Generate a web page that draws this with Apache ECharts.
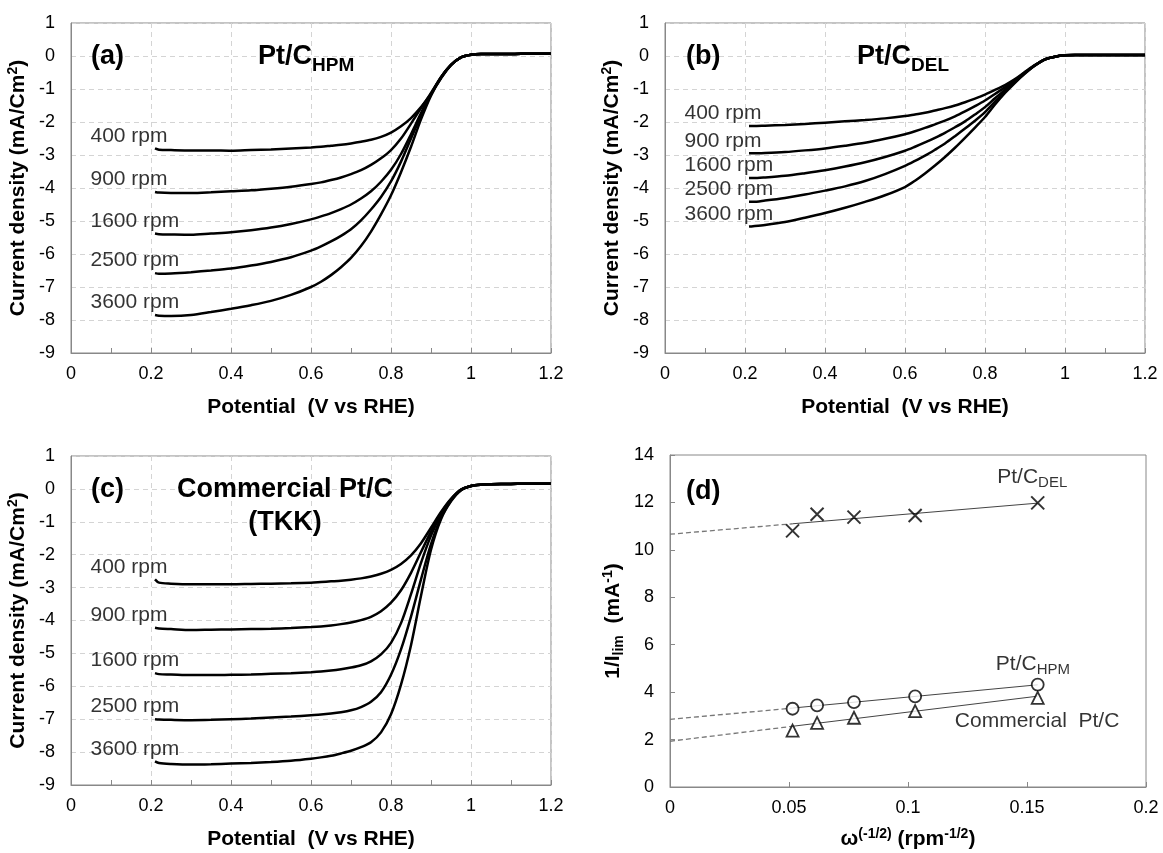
<!DOCTYPE html>
<html>
<head>
<meta charset="utf-8">
<script src="https://cdn.jsdelivr.net/npm/echarts@6/dist/echarts.min.js"></script>
<style>
  html, body { margin: 0; padding: 0; background: #fff; }
  #chart { width: 1163px; height: 853px; }
</style>
</head>
<body>
<div id="chart"></div>
<script>
var FONT = '"Liberation Sans", Arial, sans-serif';

// shared potential axis samples (V vs RHE)
var potential = [0.21, 0.22, 0.25, 0.3, 0.35, 0.4, 0.45, 0.5, 0.55, 0.6, 0.625, 0.65, 0.675, 0.7, 0.725, 0.75, 0.775, 0.8, 0.825, 0.85, 0.875, 0.9, 0.925, 0.95, 0.975, 1.0, 1.025, 1.05, 1.1, 1.15, 1.2];
var rpmLabels = ['400 rpm', '900 rpm', '1600 rpm', '2500 rpm', '3600 rpm'];

// (a) Pt/C HPM
var hpm400  = [-2.80,-2.84,-2.85,-2.86,-2.86,-2.87,-2.85,-2.83,-2.80,-2.77,-2.75,-2.72,-2.69,-2.65,-2.60,-2.54,-2.45,-2.32,-2.13,-1.88,-1.55,-1.15,-0.68,-0.28,-0.04,0.04,0.06,0.06,0.06,0.07,0.07];
var hpm900  = [-4.12,-4.14,-4.15,-4.15,-4.13,-4.10,-4.07,-4.02,-3.96,-3.88,-3.83,-3.76,-3.68,-3.58,-3.46,-3.30,-3.10,-2.85,-2.50,-2.05,-1.58,-1.12,-0.64,-0.27,-0.04,0.04,0.06,0.06,0.06,0.07,0.07];
var hpm1600 = [-5.38,-5.40,-5.41,-5.42,-5.38,-5.34,-5.28,-5.20,-5.09,-4.95,-4.86,-4.76,-4.64,-4.50,-4.32,-4.10,-3.81,-3.45,-2.97,-2.37,-1.73,-1.15,-0.64,-0.27,-0.04,0.04,0.06,0.06,0.06,0.07,0.07];
var hpm2500 = [-6.58,-6.60,-6.59,-6.55,-6.50,-6.44,-6.35,-6.24,-6.10,-5.90,-5.77,-5.62,-5.45,-5.25,-4.98,-4.65,-4.27,-3.80,-3.20,-2.50,-1.80,-1.17,-0.65,-0.27,-0.04,0.04,0.06,0.06,0.06,0.07,0.07];
var hpm3600 = [-7.85,-7.87,-7.88,-7.85,-7.76,-7.66,-7.55,-7.42,-7.24,-7.00,-6.84,-6.64,-6.40,-6.12,-5.76,-5.32,-4.80,-4.22,-3.52,-2.75,-1.92,-1.20,-0.66,-0.27,-0.04,0.04,0.06,0.06,0.06,0.07,0.07];

// (b) Pt/C DEL
var del400  = [-2.12,-2.12,-2.11,-2.09,-2.06,-2.02,-1.98,-1.94,-1.89,-1.82,-1.77,-1.72,-1.65,-1.58,-1.50,-1.40,-1.29,-1.17,-1.03,-0.88,-0.70,-0.48,-0.27,-0.10,-0.02,0.02,0.03,0.03,0.03,0.03,0.03];
var del900  = [-2.95,-2.95,-2.94,-2.91,-2.86,-2.80,-2.72,-2.63,-2.51,-2.37,-2.28,-2.18,-2.07,-1.96,-1.83,-1.68,-1.52,-1.35,-1.15,-0.95,-0.73,-0.50,-0.28,-0.10,-0.02,0.02,0.03,0.03,0.03,0.03,0.03];
var del1600 = [-3.70,-3.70,-3.68,-3.63,-3.55,-3.46,-3.35,-3.22,-3.06,-2.87,-2.75,-2.62,-2.48,-2.33,-2.16,-1.98,-1.77,-1.55,-1.28,-1.02,-0.76,-0.51,-0.28,-0.10,-0.02,0.02,0.03,0.03,0.03,0.03,0.03];
var del2500 = [-4.42,-4.42,-4.38,-4.30,-4.20,-4.08,-3.95,-3.79,-3.58,-3.33,-3.18,-3.02,-2.84,-2.65,-2.43,-2.20,-1.96,-1.70,-1.38,-1.08,-0.79,-0.52,-0.28,-0.10,-0.02,0.02,0.03,0.03,0.03,0.03,0.03];
var del3600 = [-5.17,-5.16,-5.12,-5.03,-4.90,-4.76,-4.60,-4.42,-4.22,-3.97,-3.78,-3.56,-3.32,-3.06,-2.78,-2.48,-2.17,-1.85,-1.47,-1.12,-0.81,-0.53,-0.29,-0.10,-0.02,0.02,0.03,0.03,0.03,0.03,0.03];

// (c) Commercial Pt/C (TKK)
var com400  = [-2.75,-2.85,-2.88,-2.90,-2.90,-2.90,-2.89,-2.88,-2.87,-2.85,-2.83,-2.81,-2.79,-2.76,-2.72,-2.66,-2.58,-2.46,-2.28,-2.02,-1.65,-1.18,-0.70,-0.30,-0.02,0.09,0.13,0.14,0.15,0.16,0.16];
var com900  = [-4.22,-4.24,-4.26,-4.29,-4.28,-4.27,-4.26,-4.25,-4.23,-4.20,-4.18,-4.15,-4.11,-4.06,-3.99,-3.89,-3.72,-3.46,-3.08,-2.55,-1.92,-1.30,-0.74,-0.32,-0.03,0.09,0.13,0.14,0.15,0.16,0.16];
var com1600 = [-5.60,-5.63,-5.64,-5.66,-5.66,-5.65,-5.64,-5.62,-5.60,-5.57,-5.55,-5.52,-5.48,-5.43,-5.36,-5.24,-5.03,-4.68,-4.08,-3.20,-2.25,-1.42,-0.78,-0.33,-0.03,0.09,0.13,0.14,0.15,0.16,0.16];
var com2500 = [-7.00,-7.01,-7.02,-7.03,-7.02,-7.00,-6.98,-6.95,-6.92,-6.88,-6.86,-6.83,-6.79,-6.73,-6.63,-6.47,-6.18,-5.65,-4.88,-3.88,-2.75,-1.68,-0.88,-0.35,-0.03,0.09,0.13,0.14,0.15,0.16,0.16];
var com3600 = [-8.28,-8.33,-8.36,-8.38,-8.37,-8.35,-8.33,-8.30,-8.26,-8.20,-8.16,-8.11,-8.04,-7.96,-7.85,-7.70,-7.40,-6.85,-5.95,-4.75,-3.25,-1.85,-0.92,-0.38,-0.04,0.09,0.13,0.14,0.15,0.16,0.16];

// (d) Koutecky-Levich
var omega = [0.0515, 0.0618, 0.0773, 0.1030, 0.1545];
var klDel = [10.80, 11.50, 11.38, 11.45, 11.98];
var klHpm = [3.30, 3.44, 3.58, 3.82, 4.32];
var klCom = [2.38, 2.70, 2.92, 3.20, 3.76];
// fitted line: value at 0, at first omega, at last omega
var fitDel = [10.66, 11.10, 11.97];
var fitHpm = [2.85, 3.33, 4.31];
var fitCom = [1.93, 2.56, 3.83];

var chart = echarts.init(document.getElementById('chart'));

var AX = '#888';
var nameStyle = {
  fontSize: 21, fontWeight: 'bold', fontFamily: FONT, color: '#000', lineHeight: 25,
  rich: {
    sup: { fontSize: 14, fontWeight: 'bold', fontFamily: FONT, color: '#000', verticalAlign: 'top', lineHeight: 12 },
    sub: { fontSize: 14, fontWeight: 'bold', fontFamily: FONT, color: '#000', verticalAlign: 'bottom', lineHeight: 12 }
  }
};
var labelStyle = { fontSize: 18, color: '#000', fontFamily: FONT };

function lsvX(gi) {
  return {
    gridIndex: gi, type: 'value', min: 0, max: 1.2, interval: 0.2,
    name: 'Potential  (V vs RHE)', nameLocation: 'middle', nameGap: 42, nameTextStyle: nameStyle,
    axisLine: { show: true, onZero: false, lineStyle: { color: AX, width: 1 } },
    axisTick: { show: true, inside: true, length: 5, lineStyle: { color: AX } },
    minorTick: { show: true, splitNumber: 2, length: 5, lineStyle: { color: AX } },
    splitLine: { show: true, lineStyle: { color: '#d4d4d4', type: [5, 4], width: 1 } },
    axisLabel: Object.assign({ margin: 12 }, labelStyle)
  };
}
function lsvY(gi) {
  return {
    gridIndex: gi, type: 'value', min: -9, max: 1, interval: 1,
    name: 'Current density (mA/Cm{sup|2})', nameLocation: 'middle', nameGap: 40, nameTextStyle: nameStyle,
    axisLine: { show: true, onZero: false, lineStyle: { color: AX, width: 1 } },
    axisTick: { show: false },
    splitLine: { show: true, lineStyle: { color: '#d4d4d4', type: [5, 4], width: 1 } },
    axisLabel: Object.assign({ margin: 16 }, labelStyle)
  };
}

function curve(gi, ys) {
  return {
    type: 'line', xAxisIndex: gi, yAxisIndex: gi, silent: true,
    data: potential.map(function(x, i) { return [x, ys[i]]; }),
    smooth: 0.3, showSymbol: false, symbol: 'none',
    lineStyle: { color: '#000', width: 2.5 }, z: 3
  };
}
function rpmTags(gi, curves) {
  return {
    type: 'scatter', xAxisIndex: gi, yAxisIndex: gi, silent: true,
    symbolSize: 1, itemStyle: { color: 'rgba(0,0,0,0)' },
    data: curves.map(function(c, i) { return { name: rpmLabels[i], value: [potential[0], c[0]] }; }),
    label: {
      show: true, formatter: '{b}', position: [-64, -12], align: 'left', verticalAlign: 'middle',
      fontSize: 21, color: '#000', fontFamily: FONT
    }, z: 4
  };
}

function fitLines(fit) {
  return [{
    type: 'line', xAxisIndex: 3, yAxisIndex: 3, silent: true, symbol: 'none',
    data: [[0, fit[0]], [omega[0], fit[1]]],
    lineStyle: { color: '#777', width: 1.3, type: [5, 3] }, z: 2
  }, {
    type: 'line', xAxisIndex: 3, yAxisIndex: 3, silent: true, symbol: 'none',
    data: [[omega[0], fit[1]], [omega[omega.length - 1], fit[2]]],
    lineStyle: { color: '#444', width: 1 }, z: 2
  }];
}
function markers(vals, symbol, size, style, tag) {
  var last = vals.length - 1;
  return {
    type: 'scatter', xAxisIndex: 3, yAxisIndex: 3, silent: true,
    symbol: symbol, symbolSize: size, itemStyle: style, z: 4,
    data: vals.map(function(v, i) {
      var d = { value: [omega[i], v] };
      if (i === last) d.label = tag;
      return d;
    })
  };
}
var dRich = {
  m: { fontSize: 21, fontFamily: FONT, color: '#000', lineHeight: 26 },
  s: { fontSize: 15, fontFamily: FONT, color: '#000', lineHeight: 14, verticalAlign: 'bottom' }
};

var series = [
  curve(0, hpm400), curve(0, hpm900), curve(0, hpm1600), curve(0, hpm2500), curve(0, hpm3600),
  rpmTags(0, [hpm400, hpm900, hpm1600, hpm2500, hpm3600]),
  curve(1, del400), curve(1, del900), curve(1, del1600), curve(1, del2500), curve(1, del3600),
  rpmTags(1, [del400, del900, del1600, del2500, del3600]),
  curve(2, com400), curve(2, com900), curve(2, com1600), curve(2, com2500), curve(2, com3600),
  rpmTags(2, [com400, com900, com1600, com2500, com3600])
];
series = series.concat(fitLines(fitDel), fitLines(fitHpm), fitLines(fitCom));
series.push(markers(klDel, 'path://M0,0L10,10M10,0L0,10', 13,
  { color: 'rgba(0,0,0,0)', borderColor: '#000', borderWidth: 2 },
  { show: true, formatter: '{m|Pt/C}{s|DEL}', rich: dRich, position: [-33, -18], align: 'left', verticalAlign: 'middle' }));
series.push(markers(klHpm, 'circle', 12,
  { color: '#fff', borderColor: '#000', borderWidth: 1.8 },
  { show: true, formatter: '{m|Pt/C}{s|HPM}', rich: dRich, position: [-35, -13], align: 'left', verticalAlign: 'middle' }));
series.push(markers(klCom, 'triangle', 12,
  { color: '#fff', borderColor: '#000', borderWidth: 1.8 },
  { show: true, formatter: 'Commercial  Pt/C', position: [-76, 30], align: 'left', verticalAlign: 'middle',
    fontSize: 21, fontFamily: FONT, color: '#000' }));

var gridBox = { show: true, borderColor: AX, borderWidth: 1, backgroundColor: 'transparent' };
var titleFont = 'bold 27px ' + FONT;
var tRich = {
  m: { fontSize: 27, fontWeight: 'bold', fontFamily: FONT, fill: '#000', lineHeight: 36 },
  s: { fontSize: 19, fontWeight: 'bold', fontFamily: FONT, fill: '#000', lineHeight: 18, verticalAlign: 'bottom' }
};
function tag(x, y, text, extra) {
  var st = { text: text, font: titleFont, fill: '#000', verticalAlign: 'middle', textVerticalAlign: 'middle' };
  if (extra) Object.assign(st, extra);
  return { type: 'text', x: x, y: y, style: st, z: 10 };
}

chart.setOption({
  animation: false,
  backgroundColor: '#fff',
  grid: [
    Object.assign({ left: 71, top: 23, width: 480, height: 330 }, gridBox),
    Object.assign({ left: 665, top: 23, width: 480, height: 330 }, gridBox),
    Object.assign({ left: 71, top: 456, width: 480, height: 330 }, gridBox),
    Object.assign({ left: 670, top: 455, width: 476, height: 334 }, gridBox)
  ],
  xAxis: [lsvX(0), lsvX(1), lsvX(2), {
    gridIndex: 3, type: 'value', min: 0, max: 0.2, interval: 0.05,
    name: '\u03c9{sup|(-1/2)} (rpm{sup|-1/2})', nameLocation: 'middle', nameGap: 40, nameTextStyle: nameStyle,
    axisLine: { show: true, onZero: false, lineStyle: { color: AX, width: 1 } },
    axisTick: { show: true, inside: true, length: 5, lineStyle: { color: AX } },
    splitLine: { show: false },
    axisLabel: Object.assign({ margin: 12 }, labelStyle)
  }],
  yAxis: [lsvY(0), lsvY(1), lsvY(2), {
    gridIndex: 3, type: 'value', min: 0, max: 14, interval: 2,
    name: '1/I{sub|lim}  (mA{sup|-1})', nameLocation: 'middle', nameGap: 44, nameTextStyle: nameStyle,
    axisLine: { show: true, onZero: false, lineStyle: { color: AX, width: 1 } },
    axisTick: { show: true, inside: true, length: 5, lineStyle: { color: AX } },
    splitLine: { show: false },
    axisLabel: Object.assign({ margin: 16 }, labelStyle)
  }],
  graphic: [
    tag(91, 57, '(a)'),
    tag(258, 57, '{m|Pt/C}{s|HPM}', { rich: tRich }),
    tag(686, 57, '(b)'),
    tag(857, 57, '{m|Pt/C}{s|DEL}', { rich: tRich }),
    tag(91, 490, '(c)'),
    tag(285, 490, 'Commercial Pt/C', { align: 'center', textAlign: 'center' }),
    tag(285, 523, '(TKK)', { align: 'center', textAlign: 'center' }),
    tag(686, 492, '(d)')
  ],
  series: series
});
</script>
</body>
</html>
